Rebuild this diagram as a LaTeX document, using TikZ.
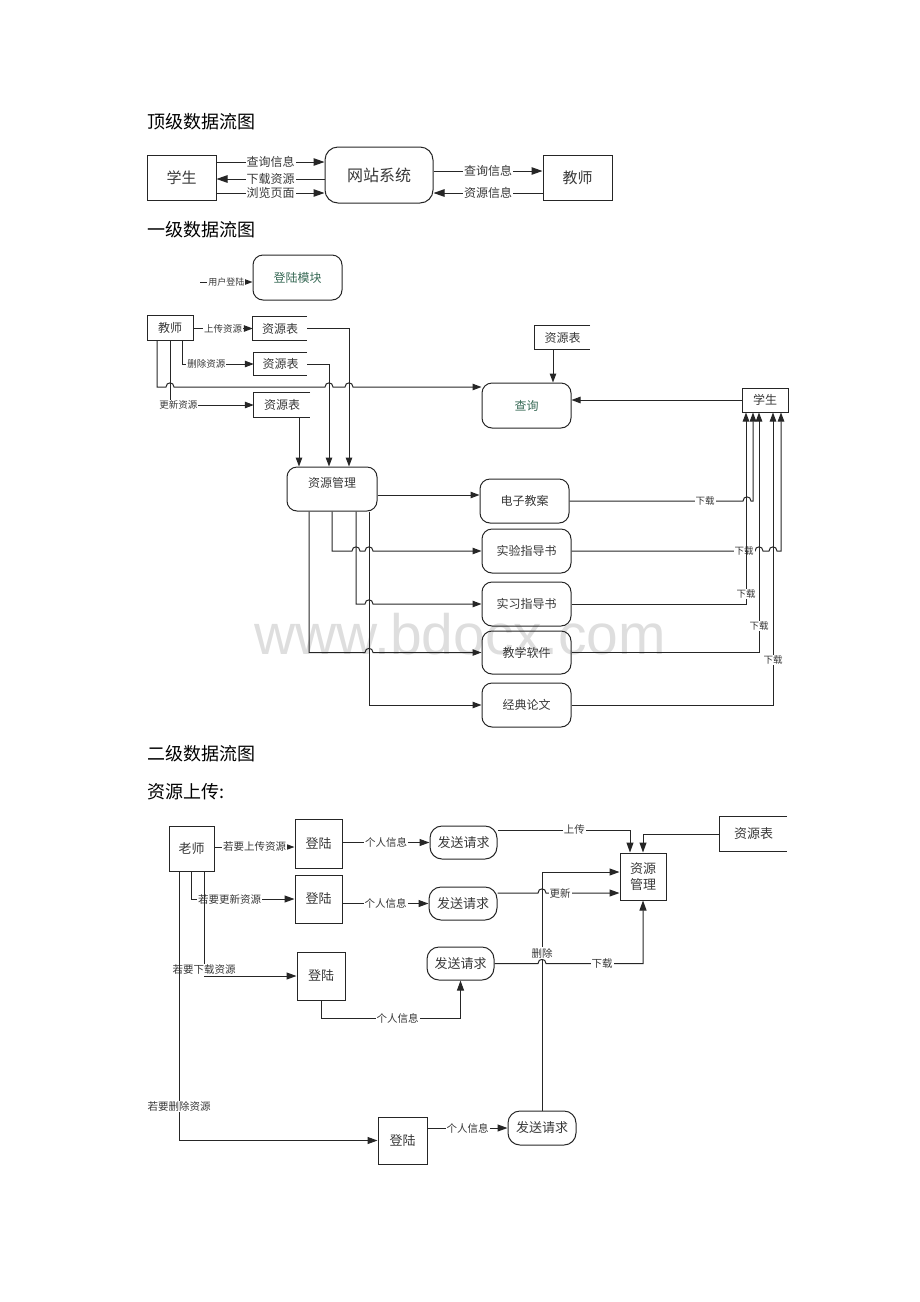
\documentclass[tikz,border=0pt]{standalone}
\usepackage{fontspec}
\setmainfont{Noto Sans CJK SC}
\newfontfamily\wmfont{Liberation Sans}
\usetikzlibrary{arrows.meta}
\definecolor{linecol}{gray}{0.15}
\definecolor{txtcol}{gray}{0.22}
\definecolor{grntxt}{RGB}{55,105,85}

\begin{document}
\begin{tikzpicture}[x=1pt,y=-1pt,>={Triangle[length=9pt,width=6.5pt]},
    box/.style={draw=linecol,line width=1pt,text=txtcol,inner sep=0pt},
    rbox/.style={box,rounded corners=10pt},
    store/.style={inner sep=0pt,text=txtcol},
    lbl/.style={fill=white,inner sep=1pt,text=txtcol,font=\fontsize{9.5}{10}\selectfont},
    ln/.style={draw=linecol,line width=1pt},
    title/.style={anchor=west,inner sep=0pt,font=\fontsize{18}{18}\selectfont}]
    \def\hopover#1#2{-- ({#1-4},#2) .. controls ({#1-4},{#2-5.5}) and ({#1+4},{#2-5.5}) .. ({#1+4},#2)}
    \useasboundingbox (0,0) rectangle (920,1302);

    \node[font=\wmfont\fontsize{57}{57}\selectfont,text=black!13] (wm) at (460,634) {www.bdocx.com};

    % top level
    \node[title] (t0) at (147,122) {顶级数据流图};
    \node[box,minimum width=69,minimum height=45,font=\fontsize{15}{15}\selectfont] (stu0) at (181.5,177.5) {学生};
    \node[rbox,rounded corners=13pt,minimum width=108,minimum height=56,font=\fontsize{16}{16}\selectfont] (web0) at (379,175) {网站系统};
    \node[box,minimum width=69,minimum height=45,font=\fontsize{15}{15}\selectfont] (tea0) at (577.5,177.5) {教师};
    \begin{scope}[lbl/.append style={font=\fontsize{12}{12}\selectfont},>={Triangle[length=11pt,width=7.5pt]}]
    \draw[ln,->] (stu0.east |- 0,162) -- node[lbl]{查询信息} (web0.west |- 0,162);
    \draw[ln,<-] (stu0.east |- 0,179) -- node[lbl]{下载资源} (web0.west |- 0,179);
    \draw[ln,->] (stu0.east |- 0,193) -- node[lbl]{浏览页面} (web0.west |- 0,193);
    \draw[ln,->] (web0.east |- 0,171) -- node[lbl]{查询信息} (tea0.west |- 0,171);
    \draw[ln,<-] (web0.east |- 0,193) -- node[lbl]{资源信息} (tea0.west |- 0,193);
    \end{scope}

    % first level
    \node[title] (t1) at (147,230) {一级数据流图};
    \begin{scope}[font=\fontsize{12}{12}\selectfont]
    \node[rbox,minimum width=89,minimum height=45,text=grntxt] (login1) at (297.5,277.5) {登陆模块};
    \coordinate (user1) at (200,282);
    \draw[ln,->] (user1) -- node[lbl,font=\fontsize{9}{9}\selectfont]{用户登陆} (login1.west |- user1);

    \node[box,minimum width=46,minimum height=25] (tea1) at (170,327.5) {教师};
    \node[store,minimum width=54,minimum height=23] (st1) at (280,328.5) {资源表};
    \node[store,minimum width=53,minimum height=22] (st2) at (280.5,364) {资源表};
    \node[store,minimum width=56,minimum height=24] (st3) at (282,405) {资源表};
    \node[store,minimum width=55,minimum height=23] (st4) at (562.5,337.5) {资源表};
    \foreach \s in {st1,st2,st3,st4}
        \draw[ln] (\s.north east) -- (\s.north west) -- (\s.south west) -- (\s.south east);
    \node[rbox,minimum width=89,minimum height=45,text=grntxt] (qry) at (526.5,405.5) {查询};
    \node[box,minimum width=46,minimum height=24] (stu1) at (765,400) {学生};
    \node[rbox,minimum width=90,minimum height=44,text depth=14pt] (mgmt) at (332,489) {资源管理};
    \node[rbox,minimum width=89,minimum height=44] (e1) at (524.5,501) {电子教案};
    \node[rbox,minimum width=89,minimum height=44] (e2) at (526.5,551) {实验指导书};
    \node[rbox,minimum width=89,minimum height=44] (e3) at (526.5,604) {实习指导书};
    \node[rbox,minimum width=89,minimum height=43] (e4) at (526.5,652.5) {教学软件};
    \node[rbox,minimum width=89,minimum height=44] (e5) at (526.5,705) {经典论文};

    \draw[ln,->] (tea1.east |- st1.west) -- node[lbl]{上传资源} (st1.west);
    \draw[ln,->] ([xshift=12pt]tea1.south) |- node[lbl,pos=0.67]{删除资源} (st2.west);
    \draw[ln,->] (tea1.south) |- node[lbl,pos=0.55]{更新资源} (st3.west);
    \draw[ln,->] ([xshift=-13pt]tea1.south) -- (157,387) \hopover{170}{387} \hopover{329}{387} \hopover{349}{387} -- (qry.west |- 0,387);
    \draw[ln,->] (st1.east) -| ([xshift=17pt]mgmt.north);
    \draw[ln,->] (st2.east) -| ([xshift=-3pt]mgmt.north);
    \draw[ln,->] ([xshift=17pt]st3.south) -- ([xshift=17pt]st3.south |- mgmt.north);
    \draw[ln,->] ([xshift=-9.5pt]st4.south) -- ([xshift=-9.5pt]st4.south |- qry.north);
    \draw[ln,->] (stu1.west) -- (qry.east |- stu1.west);

    \draw[ln,->] (mgmt.east |- 0,495) -- (e1.west |- 0,495);
    \draw[ln,->] (mgmt.south) -- (332,551) \hopover{356}{551} \hopover{369}{551} -- (e2.west);
    \draw[ln,->] ([xshift=24pt]mgmt.south) -- (356,604) \hopover{369}{604} -- (e3.west);
    \draw[ln,->] ([xshift=-23pt]mgmt.south) -- (309,652.5) \hopover{369}{652.5} -- (e4.west);
    \draw[ln,->] ([xshift=37pt]mgmt.south) |- (e5.west);

    \draw[ln,->] (e1.east) \hopover{747}{501} -| ([xshift=-12pt]stu1.south) node[lbl] at (705,501) {下载};
    \draw[ln,->] (e2.east) \hopover{759}{551} \hopover{773}{551} -| ([xshift=16pt]stu1.south) node[lbl] at (744,551) {下载};
    \draw[ln,->] (e3.east) -| node[lbl,pos=0.526]{下载} ([xshift=-19pt]stu1.south);
    \draw[ln,->] (e4.east) -| node[lbl,pos=0.555]{下载} ([xshift=-6pt]stu1.south);
    \draw[ln,->] (e5.east) -| node[lbl,pos=0.577]{下载} ([xshift=8pt]stu1.south);
    \end{scope}

    % second level
    \node[title] (t2) at (147,754) {二级数据流图};
    \node[title] (t3) at (147,792) {资源上传:};
    \begin{scope}[font=\fontsize{13}{13}\selectfont,lbl/.append style={font=\fontsize{10.5}{11}\selectfont},>={Triangle[length=10pt,width=7pt]}]
    \node[box,minimum width=45,minimum height=45] (tch) at (191.5,848.5) {老师};
    \node[box,minimum width=47,minimum height=49] (lg1) at (318.5,843.5) {登陆};
    \node[box,minimum width=47,minimum height=48] (lg2) at (318.5,899) {登陆};
    \node[box,minimum width=48,minimum height=48] (lg3) at (321,976) {登陆};
    \node[box,minimum width=49,minimum height=47] (lg4) at (402.5,1140.5) {登陆};
    \node[rbox,rounded corners=12pt,minimum width=67,minimum height=33] (rq1) at (463.5,842.5) {发送请求};
    \node[rbox,rounded corners=12pt,minimum width=68,minimum height=33] (rq2) at (463,903.5) {发送请求};
    \node[rbox,rounded corners=12pt,minimum width=67,minimum height=33] (rq3) at (460.5,963.5) {发送请求};
    \node[rbox,rounded corners=12pt,minimum width=68,minimum height=34] (rq4) at (542,1128) {发送请求};
    \node[box,minimum width=46,minimum height=47,align=center,font=\fontsize{13}{16}\selectfont] (mg2) at (643,876.5) {资源\\管理};
    \node[store,minimum width=67,minimum height=34] (st5) at (753.5,834) {资源表};
    \draw[ln] (st5.north east) -- (st5.north west) -- (st5.south west) -- (st5.south east);

    \draw[ln,->] (tch.east |- 0,847) -- node[lbl]{若要上传资源} (lg1.west |- 0,847);
    \draw[ln,->] (lg1.east |- rq1.west) -- node[lbl]{个人信息} (rq1.west);
    \draw[ln,->] ([yshift=12.5pt]rq1.east) -| node[lbl,pos=0.29]{上传} ([xshift=-13pt]mg2.north);
    \draw[ln,->] (st5.west) -| (mg2.north);
    \draw[ln,->] (tch.south) |- node[lbl,pos=0.685]{若要更新资源} (lg2.west);
    \draw[ln,->] (lg2.east |- rq2.west) -- node[lbl]{个人信息} (rq2.west);
    \draw[ln,->] ([yshift=10.5pt]rq2.east) \hopover{542}{893} -- (mg2.west |- 0,893) node[lbl] at (560,893) {更新};
    \draw[ln,->] ([xshift=12.5pt]tch.south) |- node[lbl,pos=0.47]{若要下载资源} (lg3.west);
    \draw[ln,->] (lg3.south) -- ++(0,18) -| node[lbl,pos=0.275]{个人信息} (rq3.south);
    \draw[ln,->] (rq3.east) \hopover{542}{963.5} -| (mg2.south) node[lbl] at (602,963.5) {下载};
    \draw[ln,->] ([xshift=-12.5pt]tch.south) |- node[lbl,pos=0.437]{若要删除资源} (lg4.west);
    \draw[ln,->] (lg4.east |- rq4.west) -- node[lbl]{个人信息} (rq4.west);
    \draw[ln,->] (rq4.north) |- node[lbl,pos=0.33]{删除} ([yshift=4.5pt]mg2.west);
    \end{scope}
\end{tikzpicture}
\end{document}
